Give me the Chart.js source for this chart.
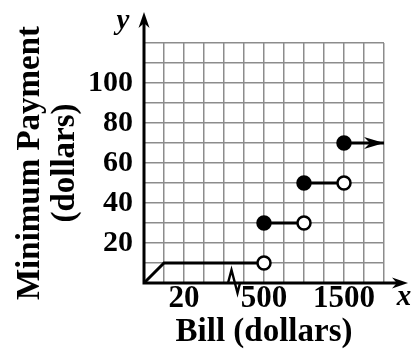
<!DOCTYPE html>
<html>
<head>
<meta charset="utf-8">
<script src="https://cdn.jsdelivr.net/npm/chart.js@4"></script>
<style>
  body { margin: 0; background: #fff; }
  canvas { display: block; }
</style>
</head>
<body>
<canvas id="paymentChart" width="412" height="349"></canvas>
<script>
// minimum payment on a bill: a step function with a broken x axis

const rampBill = [0, 10];
const rampPay = [0, 10];
const stepFrom = [10, 500, 1000, 1500];
const stepTo = [500, 1000, 1500, 2000];
const stepPay = [10, 30, 50, 70];
const xTickBills = [20, 500, 1500];
const yTickValues = [20, 40, 60, 80, 100];

// 10 dollars per square before the break, 250 dollars per square after it
function billPos(bill) {
    return bill < 250 ? bill / 10 : 6 + (bill - 500) / 250;
}
const breakPos = 4.5;

const serif = "'Liberation Serif', 'Times New Roman', serif";

// -------- datasets ----------
const datasets = [];
stepPay.forEach((pay, i) => {
    const last = i === stepPay.length - 1;
    let pts = [{ x: billPos(stepFrom[i]), y: pay }, { x: billPos(stepTo[i]), y: pay }];
    let radius = [6.5, last ? 0 : 6.5];
    let fill = ["#000", "#fff"];
    if (i === 0) {
        // ramp from the origin joins the first step
        pts = rampBill.map((b, k) => ({ x: billPos(b), y: rampPay[k] })).concat(pts.slice(1));
        radius = [0, 0, 6.5];
        fill = ["#000", "#000", "#fff"];
    }
    datasets.push({
        data: pts,
        borderColor: "#000",
        borderWidth: 3,
        pointRadius: radius,
        pointHoverRadius: radius,
        pointBackgroundColor: fill,
        pointBorderColor: "#000",
        pointBorderWidth: 2.5,
        clip: false
    });
});

function arrowHead(ctx, x, y, angle, len, half) {
    ctx.save();
    ctx.translate(x, y);
    ctx.rotate(angle);
    ctx.beginPath();
    ctx.moveTo(0, 0);
    ctx.lineTo(-len, -half);
    ctx.lineTo(-len * 0.7, 0);
    ctx.lineTo(-len, half);
    ctx.closePath();
    ctx.fill();
    ctx.restore();
}

// axes with arrows, the axis break and the x / y letters
const axesPlugin = {
    id: "axesPlugin",
    afterDatasetsDraw(chart) {
        const ctx = chart.ctx;
        const xs = chart.scales.x, ys = chart.scales.y;
        const ox = xs.getPixelForValue(0), oy = ys.getPixelForValue(0);
        ctx.save();
        ctx.fillStyle = "#000";
        ctx.strokeStyle = "#000";
        ctx.lineWidth = 3;
        ctx.lineCap = "butt";

        ctx.beginPath();
        ctx.moveTo(ox, oy + 1.5);
        ctx.lineTo(ox, 20);
        ctx.moveTo(ox - 1.5, oy);
        ctx.lineTo(400, oy);
        ctx.stroke();
        arrowHead(ctx, ox, 12, -Math.PI / 2, 16, 5.5);
        arrowHead(ctx, 408, oy, 0, 16, 5.5);

        // break mark
        const bx = xs.getPixelForValue(breakPos);
        ctx.lineWidth = 2.4;
        ctx.lineJoin = "miter";
        ctx.beginPath();
        ctx.moveTo(bx - 6, oy);
        ctx.lineTo(bx - 2.5, oy - 13);
        ctx.lineTo(bx + 3.5, oy + 10);
        ctx.lineTo(bx + 6, oy);
        ctx.stroke();

        // arrow on the last step
        const lastI = stepPay.length - 1;
        arrowHead(ctx, xs.getPixelForValue(billPos(stepTo[lastI])),
            ys.getPixelForValue(stepPay[lastI]), 0, 20, 6);

        ctx.font = "italic bold 29px " + serif;
        ctx.textAlign = "center";
        ctx.textBaseline = "alphabetic";
        ctx.fillText("y", 123, 29);
        ctx.fillText("x", 404, 305);
        ctx.restore();
    }
};

new Chart(document.getElementById("paymentChart"), {
    type: "line",
    data: { datasets },
    options: {
        responsive: false,
        animation: false,
        events: [],
        layout: { padding: { top: 43, right: 28, left: 0, bottom: 0 } },
        plugins: { legend: { display: false }, tooltip: { enabled: false } },
        scales: {
            x: {
                type: "linear",
                min: 0,
                max: 12,
                afterFit: s => { s.height = 66; },
                grid: { color: "#8c8c8c", lineWidth: 1.5, drawTicks: false },
                border: { display: false },
                ticks: {
                    stepSize: 1,
                    autoSkip: false,
                    maxRotation: 0,
                    padding: 0,
                    color: "#000",
                    font: { family: serif, size: 31, weight: "bold", lineHeight: 1 },
                    callback: v => {
                        const b = xTickBills.find(t => Math.abs(billPos(t) - v) < 1e-6);
                        return b === undefined ? "" : String(b);
                    }
                },
                title: {
                    display: true,
                    text: "Bill (dollars)",
                    color: "#000",
                    font: { family: serif, size: 33, weight: "bold", lineHeight: 1 },
                    padding: { top: 2, bottom: 0 }
                }
            },
            y: {
                min: 0,
                max: 120,
                afterFit: s => { s.width = 144; },
                grid: { color: "#8c8c8c", lineWidth: 1.5, drawTicks: false },
                border: { display: false },
                ticks: {
                    stepSize: 10,
                    autoSkip: false,
                    padding: 11,
                    color: "#000",
                    font: { family: serif, size: 30, weight: "bold" },
                    callback: v => yTickValues.includes(v) ? String(v) : ""
                },
                title: {
                    display: true,
                    text: ["Minimum Payment", "(dollars)"],
                    color: "#000",
                    font: { family: serif, size: 33, weight: "bold", lineHeight: 1.05 },
                    padding: { top: 13, bottom: 0 }
                }
            }
        }
    },
    plugins: [axesPlugin]
});
</script>
</body>
</html>
